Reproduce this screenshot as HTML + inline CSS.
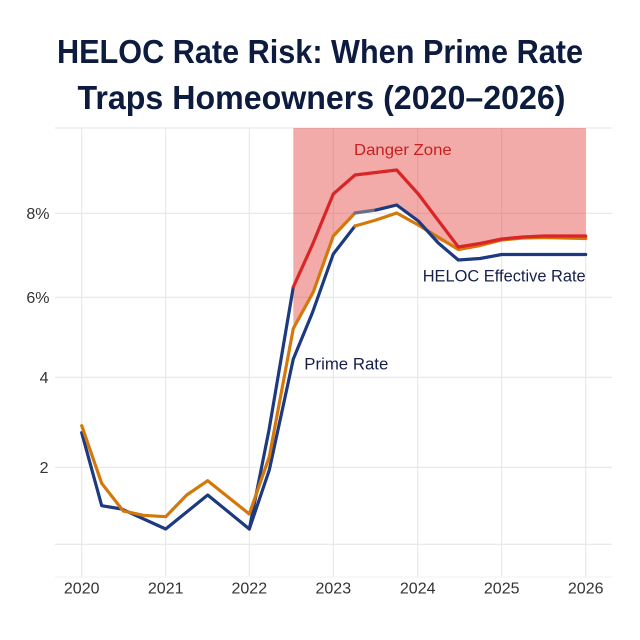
<!DOCTYPE html>
<html>
<head>
<meta charset="utf-8">
<style>
  html,body{margin:0;padding:0;background:#ffffff;}
  svg{display:block;}
  text{font-family:"Liberation Sans", sans-serif;}
</style>
</head>
<body>
<svg width="640" height="640" viewBox="0 0 640 640" xmlns="http://www.w3.org/2000/svg">
  <rect x="0" y="0" width="640" height="640" fill="#ffffff"/>

  <!-- Title -->
  <text x="57" y="63" font-size="33" font-weight="bold" fill="#0d1b3e" textLength="526" lengthAdjust="spacingAndGlyphs">HELOC Rate Risk: When Prime Rate</text>
  <text x="77.5" y="109" font-size="33" font-weight="bold" fill="#0d1b3e" textLength="488" lengthAdjust="spacingAndGlyphs">Traps Homeowners (2020–2026)</text>

  <!-- Gridlines -->
  <g stroke="#e4e4e4" stroke-width="1">
    <line x1="55" y1="128" x2="612" y2="128"/>
    <line x1="55" y1="213.3" x2="612" y2="213.3"/>
    <line x1="55" y1="297.3" x2="612" y2="297.3"/>
    <line x1="55" y1="377.3" x2="612" y2="377.3"/>
    <line x1="55" y1="467.3" x2="612" y2="467.3"/>
    <line x1="55" y1="544.3" x2="612" y2="544.3"/>
    <line x1="81.7" y1="128" x2="81.7" y2="577"/>
    <line x1="165.7" y1="128" x2="165.7" y2="577"/>
    <line x1="249.3" y1="128" x2="249.3" y2="577"/>
    <line x1="333.3" y1="128" x2="333.3" y2="577"/>
    <line x1="417.7" y1="128" x2="417.7" y2="577"/>
    <line x1="501.7" y1="128" x2="501.7" y2="577"/>
    <line x1="585.7" y1="128" x2="585.7" y2="577"/>
  </g>
  <line x1="55" y1="577" x2="612" y2="577" stroke="#f2f2f2" stroke-width="1"/>

  <!-- Danger zone fill -->
  <polygon fill="rgb(225,55,50)" fill-opacity="0.42"
    points="293.3,128 585.7,128 585.7,238.5 543.3,237.5 523,238 501.7,240 480,245.5 458.3,249.5 438,240 428,230 418.3,221 396.7,205 376,210 355,213 333.3,236 313.3,292 293.3,328.5"/>

  <!-- Series -->
  <g fill="none" stroke-width="3.2" stroke-linejoin="round" stroke-linecap="round">
    <!-- Prime blue early -->
    <polyline stroke="#1d3a80" points="81.7,432.7 101.7,505.7 121.7,509 165.7,529 207.7,495 249.3,529 269.3,470 293.3,359 312.3,313 333.3,254 355,226"/>
    <!-- Upper blue before zone -->
    <polyline stroke="#1d3a80" points="249.3,529 269,430 293.3,287"/>
    <!-- Orange early -->
    <polyline stroke="#d5780c" points="81.7,425.7 101.7,483.3 123.3,511 143.3,515.3 165.7,516.7 186.7,495 207.7,480.7 249.3,514 269.3,456.7 293.3,328.5 313.3,292 333.3,236 355,213"/>
    <!-- Orange late -->
    <polyline stroke="#d5780c" points="355,226 376,220 396.7,213 418.3,225 458.3,249.5 480,245.5 501.7,240 523,238 543.3,237.5 585.7,238.5"/>
    <!-- Gray transition -->
    <polyline stroke="#6b6f86" points="355,213 376,210"/>
    <!-- Blue late -->
    <polyline stroke="#1d3a80" points="376,210 396.7,205 418.3,221 438.3,243 458.3,260 480,258.5 501.7,254.5 585.7,254.5"/>
    <!-- Red line in zone -->
    <polyline stroke="#d92525" points="293.3,287 312.3,245 333.3,194 355,175 396.7,170 418.3,194 458.3,247 480,243.5 501.7,239 523,237 543.3,236 585.7,236"/>
  </g>

  <!-- Annotations -->
  <text x="354" y="155" font-size="16" fill="#c8201e" textLength="97.7" lengthAdjust="spacingAndGlyphs">Danger Zone</text>
  <text x="422.7" y="281.7" font-size="16.5" fill="#16204a" textLength="163" lengthAdjust="spacingAndGlyphs">HELOC Effective Rate</text>
  <text x="304.3" y="369.3" font-size="16.5" fill="#16204a" textLength="84" lengthAdjust="spacingAndGlyphs">Prime Rate</text>

  <!-- Y axis labels -->
  <g font-size="16" fill="#333333" text-anchor="end">
    <text x="49.5" y="219">8%</text>
    <text x="49.5" y="303">6%</text>
    <text x="48.5" y="383">4</text>
    <text x="48.5" y="473">2</text>
  </g>

  <!-- X axis labels -->
  <g font-size="16" fill="#333333" text-anchor="middle">
    <text x="81.7" y="593.5">2020</text>
    <text x="165.7" y="593.5">2021</text>
    <text x="249.3" y="593.5">2022</text>
    <text x="333.3" y="593.5">2023</text>
    <text x="417.7" y="593.5">2024</text>
    <text x="501.7" y="593.5">2025</text>
    <text x="585.7" y="593.5">2026</text>
  </g>
</svg>
</body>
</html>
